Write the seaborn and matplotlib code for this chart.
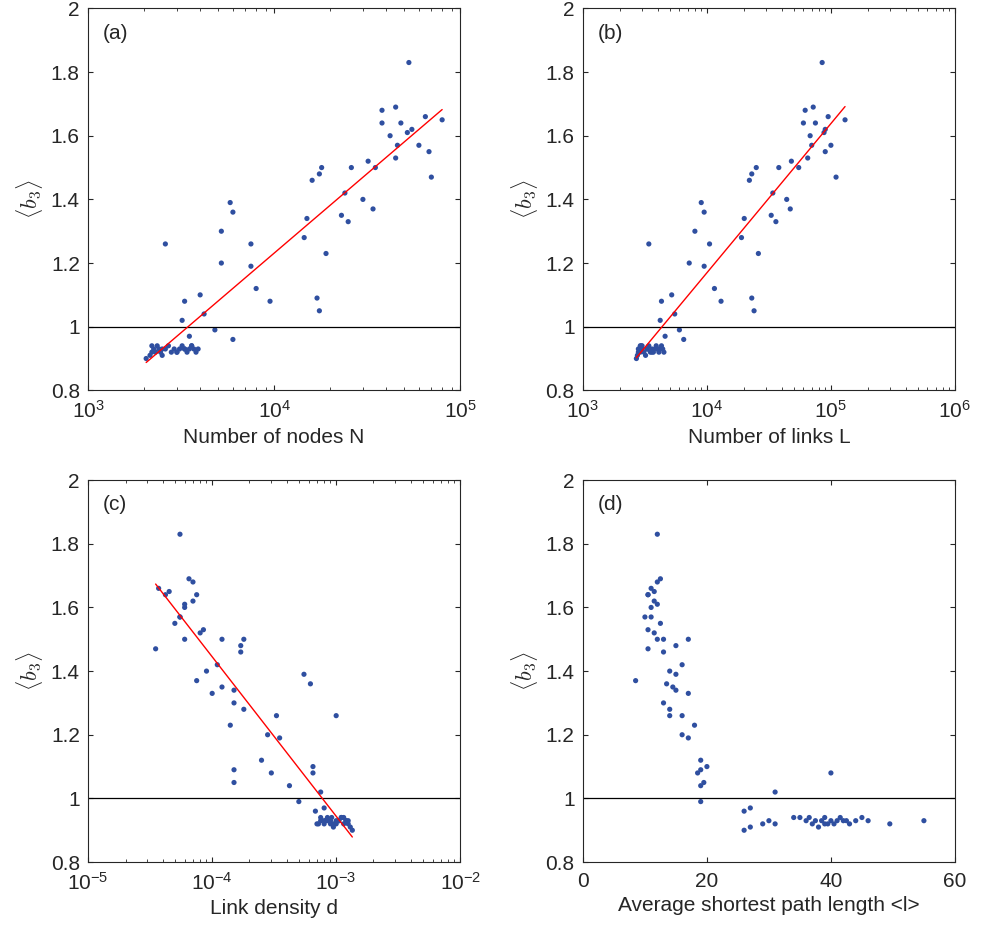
import numpy as np
import matplotlib
matplotlib.use("Agg")
import matplotlib.pyplot as plt
import seaborn as sns

sns.set_style("ticks")
plt.rcParams['font.family'] = ['Liberation Sans', 'DejaVu Sans']
plt.rcParams['mathtext.fontset'] = 'cm'

# cluster values near 0.92 shared in shape across panels
cl_b3 = [0.90, 0.91, 0.92, 0.93, 0.92, 0.94, 0.93, 0.92, 0.91, 0.93, 0.94, 0.92, 0.93, 0.92,
         0.93, 0.94, 0.93, 0.92, 0.93, 0.94, 0.93, 0.92, 0.93, 0.94, 0.93, 0.92, 0.93, 0.94]
hi_b3 = [1.26, 1.02, 1.08, 0.97, 1.10, 1.04, 0.99, 1.20, 1.30, 1.39, 1.36, 0.96, 1.26, 1.19, 1.12,
         1.08, 1.28, 1.34, 1.46, 1.09, 1.05, 1.48, 1.50, 1.23, 1.35, 1.42, 1.33, 1.50, 1.40, 1.52,
         1.37, 1.50, 1.64, 1.68, 1.60, 1.69, 1.53, 1.57, 1.64, 1.61, 1.83, 1.62, 1.57, 1.66, 1.55,
         1.47, 1.65]
b3 = cl_b3 + hi_b3

nodes_N = [2050, 2150, 2200, 2250, 2300, 2350, 2400, 2450, 2500, 2600, 2700, 2800, 2900, 3000,
           3100, 3200, 3300, 3400, 3500, 3600, 3700, 3800, 3900, 2200, 2500, 3000, 3300, 3600,
           2600, 3200, 3300, 3500, 4000, 4200, 4800, 5200, 5200, 5800, 6000, 6000, 7500, 7500, 8000,
           9500, 14500, 15000, 16000, 17000, 17500, 17500, 18000, 19000, 23000, 24000, 25000, 26000, 30000, 32000,
           34000, 35000, 38000, 38000, 42000, 45000, 45000, 46000, 48000, 52000, 53000, 55000, 60000, 65000, 68000,
           70000, 80000]
links_L = [2700, 2750, 2800, 2850, 2900, 2950, 3000, 3100, 3200, 3300, 3400, 3500, 3600, 3700,
           3800, 3900, 4000, 4100, 4200, 4300, 4400, 4500, 2800, 3000, 3300, 3600, 4000, 2900,
           3400, 4200, 4300, 4600, 5200, 5500, 6000, 7200, 8000, 9000, 9500, 6500, 10500, 9500, 11500,
           13000, 19000, 20000, 22000, 23000, 24000, 23000, 25000, 26000, 33000, 34000, 36000, 38000, 44000, 48000,
           47000, 55000, 60000, 62000, 68000, 72000, 65000, 70000, 75000, 88000, 85000, 90000, 100000, 95000, 90000,
           110000, 130000]
dens_d = [1.35e-3, 1.3e-3, 1.25e-3, 1.2e-3, 1.15e-3, 1.1e-3, 1.05e-3, 1.0e-3, 9.5e-4, 9e-4, 8.5e-4, 8e-4, 7.5e-4, 7e-4,
          1.2e-3, 1.1e-3, 1.0e-3, 9e-4, 8e-4, 7.5e-4, 1.05e-3, 9.5e-4, 8.5e-4, 1.15e-3, 1.25e-3, 7.2e-4, 8.2e-4, 9.2e-4,
          1.0e-3, 7.5e-4, 6.5e-4, 8e-4, 6.5e-4, 4.2e-4, 5e-4, 2.8e-4, 1.5e-4, 5.5e-4, 6.2e-4, 6.8e-4, 3.3e-4, 3.5e-4, 2.5e-4,
          3.0e-4, 1.8e-4, 1.5e-4, 1.7e-4, 1.5e-4, 1.5e-4, 1.7e-4, 1.8e-4, 1.4e-4, 1.2e-4, 1.1e-4, 1.0e-4, 1.2e-4, 9e-5, 8e-5,
          7.5e-5, 6e-5, 4.2e-5, 7e-5, 6e-5, 6.5e-5, 8.5e-5, 5.5e-5, 7.5e-5, 6e-5, 5.5e-5, 7e-5, 5.5e-5, 3.7e-5, 5e-5,
          3.5e-5, 4.5e-5]
path_l = [26, 27, 29, 30, 31, 35, 36, 37, 38, 38.5, 39, 39.5, 40, 40.5, 41, 41.5, 42, 43, 44, 45, 46, 49.5,
          55, 36.5, 37.5, 39, 42.5, 34,
          14, 31, 40, 27, 20, 19, 19, 16, 13, 15, 13.5, 26, 16, 17, 19,
          18.5, 14, 15, 13, 19, 19.5, 15, 17, 18, 14.5, 16, 17, 12, 14, 11.5,
          8.5, 13, 10.5, 12, 11, 12.5, 10.5, 11, 10.5, 12, 12, 11.5, 10, 11, 12.5, 10.5, 11.5]

dot = '#2f4fa0'
fig, axes = plt.subplots(2, 2, figsize=(10.02, 9.35), dpi=100)
fig.subplots_adjust(left=0.088, right=0.953, top=0.991, bottom=0.078, wspace=0.33, hspace=0.235)

panels = [(nodes_N, 'Number of nodes N', '(a)', True, (1e3, 1e5), True),
          (links_L, 'Number of links L', '(b)', True, (1e3, 1e6), True),
          (dens_d, 'Link density d', '(c)', True, (1e-5, 1e-2), True),
          (path_l, 'Average shortest path length <l>', '(d)', False, (0, 60), False)]

for ax, (x, xl, tag, logx, xlim, fit) in zip(axes.flat, panels):
    x = np.array(x, dtype=float)
    y = np.array(b3[:len(x)])
    sns.scatterplot(x=x, y=y, ax=ax, color=dot, s=14, edgecolor='none', linewidth=0)
    ax.axhline(1, color='black', lw=0.9)
    if fit:
        p = np.polyfit(np.log10(x), y, 1)
        xs = np.linspace(np.log10(x.min()), np.log10(x.max()), 50)
        ax.plot(10 ** xs, np.polyval(p, xs), color='red', lw=1)
    if logx:
        ax.set_xscale('log')
    ax.set_xlim(*xlim)
    ax.set_ylim(0.8, 2)
    ax.set_yticks([0.8, 1, 1.2, 1.4, 1.6, 1.8, 2])
    ax.set_yticklabels(['0.8', '1', '1.2', '1.4', '1.6', '1.8', '2'])
    if not logx:
        ax.set_xticks([0, 20, 40, 60])
    ax.tick_params(direction='in', labelsize=15, top=True, right=True, which='both')
    ax.tick_params(axis='x', pad=7)
    ax.tick_params(axis='y', pad=6)
    ax.set_xlabel(xl, fontsize=15, labelpad=4)
    ax.set_ylabel(r'$\langle b_3\rangle$', fontsize=16)
    ax.text(0.04, 0.96, tag, transform=ax.transAxes, fontsize=15, va='top')
    for s in ax.spines.values():
        s.set_linewidth(0.8)

fig.savefig('out.png')
